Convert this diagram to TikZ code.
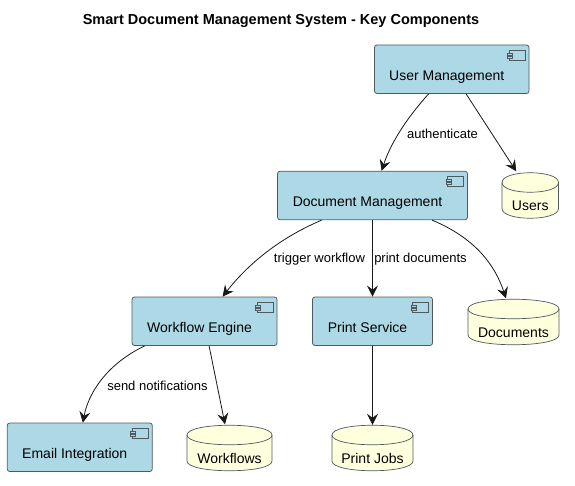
\documentclass[tikz,border=0pt]{standalone}
\usepackage{fontspec}
\setmainfont{Liberation Sans}
\usetikzlibrary{arrows.meta,calc}
\definecolor{compfill}{HTML}{ADD8E6}
\definecolor{dbfill}{HTML}{FEFFDD}
\definecolor{edgeline}{HTML}{181818}
\definecolor{boxline}{HTML}{4F5A5E}
\tikzset{
  comp/.style={draw=boxline,fill=compfill,rounded corners=2.5pt,line width=.8pt,inner sep=0pt,
    minimum height=48.5pt,font=\fontsize{14}{16}\selectfont,text=black},
  dbbody/.style={draw=boxline,fill=dbfill,line width=.7pt},
  dbtext/.style={inner sep=0pt,font=\fontsize{14}{16}\selectfont,text=black},
  lbl/.style={inner sep=0pt,font=\fontsize{13}{14}\selectfont,text=black},
  link/.style={draw=edgeline,line width=.8pt,-{Stealth[length=11pt,width=11pt,inset=4pt]}},
  icon/.style={draw=boxline,fill=compfill,line width=.7pt,sharp corners},
}
\newcommand{\compicon}[1]{%
  \draw[icon] ($(#1.north east)+(-20.5,5.5)$) rectangle ($(#1.north east)+(-4.5,15.5)$);
  \draw[icon] ($(#1.north east)+(-22,8.3)$) rectangle ($(#1.north east)+(-17,10.7)$);
  \draw[icon] ($(#1.north east)+(-22,11.7)$) rectangle ($(#1.north east)+(-17,14)$);
}
\newcommand{\comptext}[1]{\raisebox{-11pt}[0pt][0pt]{#1}\hspace*{10pt}}
\newcommand{\dbtxt}[1]{\raisebox{-15.5pt}[0pt][0pt]{#1}}
% left, top, width, height
\newcommand{\dbshape}[4]{%
  \draw[dbbody] (#1,#2+10) .. controls (#1,#2-3) and (#1+#3,#2-3) .. (#1+#3,#2+10)
    -- (#1+#3,#2+#4-10) .. controls (#1+#3,#2+#4+3) and (#1,#2+#4+3) .. (#1,#2+#4-10) -- cycle;
  \draw[dbbody,fill=none] (#1,#2+10) .. controls (#1,#2+23) and (#1+#3,#2+23) .. (#1+#3,#2+10);
}
\begin{document}
\begin{tikzpicture}[x=1pt,y=-1pt]
\useasboundingbox (0,0) rectangle (575,486);
\node[inner sep=0pt,font=\bfseries\fontsize{14.5}{16}\selectfont] (title) at (281,21) {Smart Document Management System - Key Components};

\node[comp,minimum width=154.5pt] (um) at (451.75,69.25) {\comptext{User Management}};
\node[comp,minimum width=190pt] (dm) at (372.5,195.5) {\comptext{Document Management}};
\node[comp,minimum width=145pt] (wf) at (204.5,321.25) {\comptext{Workflow Engine}};
\node[comp,minimum width=120pt] (ps) at (372.5,321.25) {\comptext{Print Service}};
\node[comp,minimum width=145pt] (em) at (79.75,447.25) {\comptext{Email Integration}};
\compicon{um}\compicon{dm}\compicon{wf}\compicon{ps}\compicon{em}

\dbshape{502}{172.5}{56.5}{46}
\node[dbtext,minimum width=56.5pt,minimum height=46pt] (users) at (530.25,195.5) {\dbtxt{Users}};
\dbshape{468}{299}{91}{46}
\node[dbtext,minimum width=91pt,minimum height=46pt] (docs) at (513.5,322) {\dbtxt{Documents}};
\dbshape{187}{425}{85}{46}
\node[dbtext,minimum width=85pt,minimum height=46pt] (wfs) at (229.5,448) {\dbtxt{Workflows}};
\dbshape{332}{425}{81}{46}
\node[dbtext,minimum width=81pt,minimum height=46pt] (pj) at (372.5,448) {\dbtxt{Print Jobs}};

\draw[link] ($(um.south west)+(54.5,0)$) .. controls (405,120) and (390,145) .. ($(dm.north west)+(104.5,0)$);
\draw[link] ($(um.south west)+(92,0)$) -- ($(users.north)+(-14,-1)$);
\draw[link] ($(dm.south west)+(44.5,0)$) .. controls (275,240) and (245,268) .. ($(wf.north west)+(91,0)$);
\draw[link] (dm.south) -- (ps.north);
\draw[link] ($(dm.south west)+(155,0)$) .. controls (475,238) and (495,265) .. ($(docs.north)+(-7.5,-.5)$);
\draw[link] ($(wf.south west)+(13,0)$) .. controls (105,365) and (88,395) .. ($(em.north west)+(76,0)$);
\draw[link] ($(wf.south west)+(77.5,0)$) -- ($(wfs.north)+(-4.5,-.5)$);
\draw[link] (ps.south) -- (pj.north);

\node[lbl] (l1) at (442.5,133.5) {authenticate};
\node[lbl] (l2) at (319.5,259.5) {trigger workflow};
\node[lbl] (l3) at (420.5,259.5) {print documents};
\node[lbl] (l4) at (157.5,385.5) {send notifications};
\end{tikzpicture}
\end{document}
